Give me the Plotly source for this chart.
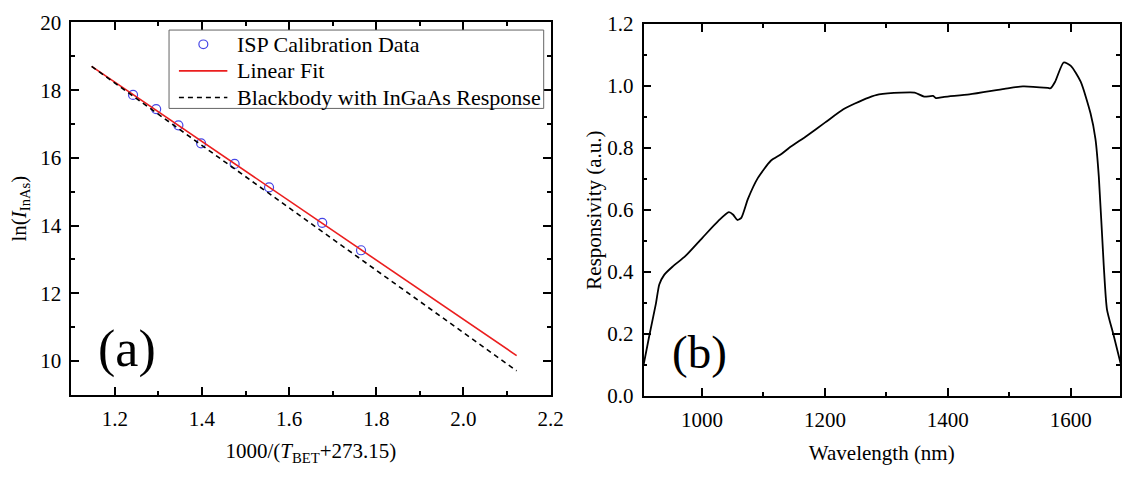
import plotly.graph_objects as go

# ---- Panel (a) data ----
isp_x = [1.242, 1.295, 1.346, 1.398, 1.475, 1.554, 1.676, 1.765]
isp_y = [17.86, 17.44, 16.96, 16.43, 15.82, 15.13, 14.08, 13.27]
fit_x = [1.147, 2.122]
fit_y = [18.70, 10.16]
bb_x = [1.147, 2.122]
bb_y = [18.70, 9.71]

# ---- Panel (b) data ----
wl = [905, 914.6, 925.2, 930.6, 938.6, 952, 973.3, 1000, 1026.7, 1043.8, 1050.8,
      1057.7, 1064, 1074.8, 1090.8, 1112, 1128, 1141.5, 1170.8, 1200, 1230, 1247.9,
      1271.3, 1288, 1324, 1346, 1361.4, 1376, 1381, 1394, 1435, 1492, 1522, 1562.6,
      1567, 1574.4, 1588.3, 1600, 1616, 1632, 1640, 1645.5, 1653.5, 1658.8, 1669.5, 1681]
resp = [0.100, 0.197, 0.299, 0.360, 0.391, 0.417, 0.452, 0.509, 0.565, 0.593, 0.585,
        0.568, 0.575, 0.636, 0.703, 0.759, 0.779, 0.800, 0.840, 0.882, 0.925, 0.943,
        0.963, 0.973, 0.979, 0.979, 0.966, 0.968, 0.961, 0.965, 0.973, 0.991, 0.999, 0.994,
        0.993, 1.014, 1.076, 1.065, 1.014, 0.912, 0.830, 0.708, 0.422, 0.279, 0.197, 0.105]

legend_names = ["ISP Calibration Data", "Linear Fit", "Blackbody with InGaAs Response"]

FONT = "Liberation Serif, Times New Roman, serif"
W, H = 1135, 479
BLUE = "rgb(70,70,230)"
RED = "rgb(235,30,30)"

fig = go.Figure()
fig.add_trace(go.Scatter(x=isp_x, y=isp_y, mode="markers", name=legend_names[0],
                         marker=dict(symbol="circle-open", size=9, color=BLUE,
                                     line=dict(width=1.2, color=BLUE)),
                         xaxis="x", yaxis="y", showlegend=False))
fig.add_trace(go.Scatter(x=fit_x, y=fit_y, mode="lines", name=legend_names[1],
                         line=dict(color=RED, width=1.6), xaxis="x", yaxis="y", showlegend=False))
fig.add_trace(go.Scatter(x=bb_x, y=bb_y, mode="lines", name=legend_names[2],
                         line=dict(color="black", width=1.6, dash="5px,4px"), xaxis="x", yaxis="y",
                         showlegend=False))
fig.add_trace(go.Scatter(x=wl, y=resp, mode="lines", showlegend=False,
                         line=dict(color="black", width=1.8, shape="spline", smoothing=0.6),
                         xaxis="x2", yaxis="y2"))

def ax(**kw):
    base = dict(showline=True, linecolor="black", linewidth=1.5, mirror="ticks",
                ticks="inside", ticklen=8, tickwidth=1.5, tickcolor="black",
                showgrid=False, zeroline=False, ticklabelstandoff=4,
                tickfont=dict(family=FONT, size=21, color="black"),
                minor=dict(ticks="inside", ticklen=4, tickwidth=1.5, tickcolor="black", showgrid=False))
    base.update(kw)
    return base

def px(x):
    return x / W

def py(y):
    return 1 - y / H

# manual legend (box, samples, labels) in paper coordinates
shapes = [
    dict(type="rect", xref="paper", yref="paper", x0=px(171), x1=px(550), y0=py(19), y1=py(101.5),
         line=dict(color="rgb(100,100,100)", width=1), fillcolor="white", layer="above"),
    dict(type="circle", xref="paper", yref="paper", x0=px(201.2), x1=px(210.2), y0=py(29.5), y1=py(38.5),
         line=dict(color=BLUE, width=1.2), layer="above"),
    dict(type="line", xref="paper", yref="paper", x0=px(181), x1=px(230), y0=py(62), y1=py(62),
         line=dict(color=RED, width=1.6), layer="above"),
    dict(type="line", xref="paper", yref="paper", x0=px(181), x1=px(230), y0=py(90), y1=py(90),
         line=dict(color="black", width=1.6, dash="5px,4px"), layer="above"),
]
annotations = []
for name, yy in zip(legend_names, [34, 62, 90]):
    annotations.append(dict(text=name, x=px(238), y=py(yy), xref="paper", yref="paper",
                            xanchor="left", yanchor="middle", showarrow=False,
                            font=dict(family=FONT, size=22, color="black")))
annotations += [
    dict(text="(a)", x=px(128), y=py(355), xref="paper", yref="paper", showarrow=False,
         xanchor="center", yanchor="middle", font=dict(family=FONT, size=52, color="black")),
    dict(text="(b)", x=px(708), y=py(358), xref="paper", yref="paper", showarrow=False,
         xanchor="center", yanchor="middle", font=dict(family=FONT, size=47, color="black")),
]

fig.update_layout(
    width=W, height=H, margin=dict(l=0, r=0, t=0, b=0),
    paper_bgcolor="white", plot_bgcolor="white", showlegend=False,
    font=dict(family=FONT, color="black"),
    xaxis=ax(domain=[72/W, 557/W], range=[1.1, 2.2], tick0=1.2, dtick=0.2, tickformat=".1f",
             minor_dtick=0.1, minor_tick0=1.1, anchor="y",
             title=dict(text="1000/(<i>T</i><sub>BET</sub>+273.15)", font=dict(family=FONT, size=21), standoff=14)),
    yaxis=ax(domain=[1-403/H, 1-11/H], range=[9, 20], tick0=10, dtick=2, minor_dtick=1, minor_tick0=9,
             anchor="x",
             title=dict(text="ln(<i>I</i><sub>InAs</sub>)", font=dict(family=FONT, size=21), standoff=8)),
    xaxis2=ax(domain=[651/W, 1133/W], range=[905, 1680], tick0=1000, dtick=200, minor_dtick=100,
              minor_tick0=1000, anchor="y2",
              title=dict(text="Wavelength (nm)", font=dict(family=FONT, size=21), standoff=14)),
    yaxis2=ax(domain=[1-404.3/H, 1-12.7/H], range=[0, 1.2], tick0=0, dtick=0.2, tickformat=".1f",
              minor_dtick=0.1, minor_tick0=0, anchor="x2",
              title=dict(text="Responsivity (a.u.)", font=dict(family=FONT, size=21), standoff=0)),
    shapes=shapes,
    annotations=annotations,
)

fig.write_html("out.html")
